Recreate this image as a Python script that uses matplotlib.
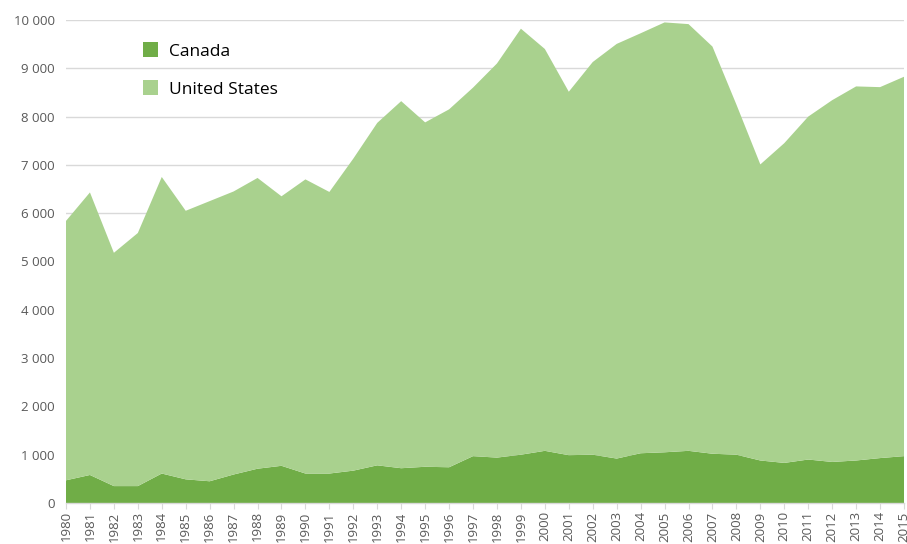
import matplotlib
matplotlib.use("Agg")
import matplotlib.pyplot as plt
from matplotlib.patches import Patch
from matplotlib.ticker import FuncFormatter

years = list(range(1980, 2016))
canada = [470, 580, 350, 350, 610, 490, 450, 590, 710, 770, 610, 610, 670, 780, 720, 750, 740,
          970, 940, 1000, 1080, 990, 1000, 920, 1030, 1050, 1080, 1020, 1000, 880, 830, 900, 850,
          880, 930, 970]
total = [5840, 6430, 5180, 5590, 6750, 6050, 6250, 6450, 6730, 6350, 6700, 6440, 7130, 7870,
         8320, 7880, 8150, 8600, 9100, 9820, 9400, 8515, 9130, 9505, 9725, 9950, 9915, 9450,
         8250, 7010, 7450, 8000, 8340, 8625, 8610, 8825]
united_states = [t - c for t, c in zip(total, canada)]
series_names = ["Canada", "United States"]
colors = ["#70AD47", "#A9D18E"]

plt.rcParams['font.family'] = ['Open Sans', 'DejaVu Sans']

fig = plt.figure(figsize=(9.07, 5.44), dpi=100)
ax = fig.add_axes([66/907, 41/544, 838/907, 483/544])

ax.stackplot(years, canada, united_states, colors=colors, linewidth=0, zorder=2)

ax.set_xlim(1980, 2015)
ax.set_ylim(0, 10000)
ax.set_yticks(range(0, 10001, 1000))
ax.yaxis.set_major_formatter(FuncFormatter(lambda v, p: f"{int(v):,}".replace(",", " ")))
ax.set_xticks(years)
ax.set_xticklabels([str(y) for y in years], rotation=90)

ax.grid(axis='y', color='#D9D9D9', linewidth=1, zorder=0)
ax.set_axisbelow(True)
for s in ['top', 'right', 'left']:
    ax.spines[s].set_visible(False)
ax.spines['bottom'].set_color('#D9D9D9')
ax.spines['bottom'].set_linewidth(1)
ax.spines['bottom'].set_zorder(3)

ax.tick_params(axis='y', length=0, pad=8, labelsize=9.5, labelcolor='#595959')
ax.tick_params(axis='x', length=4, color='#D9D9D9', pad=2, labelsize=9.5, labelcolor='#595959')

handles = [Patch(facecolor=c, edgecolor='none') for c in colors]
leg = ax.legend(handles, series_names, loc='upper left', bbox_to_anchor=(0.073, 0.986),
                frameon=False, fontsize=12.5, handlelength=0.9, handleheight=0.9,
                handletextpad=0.6, labelspacing=1.2)

fig.savefig("out.png", dpi=100)
